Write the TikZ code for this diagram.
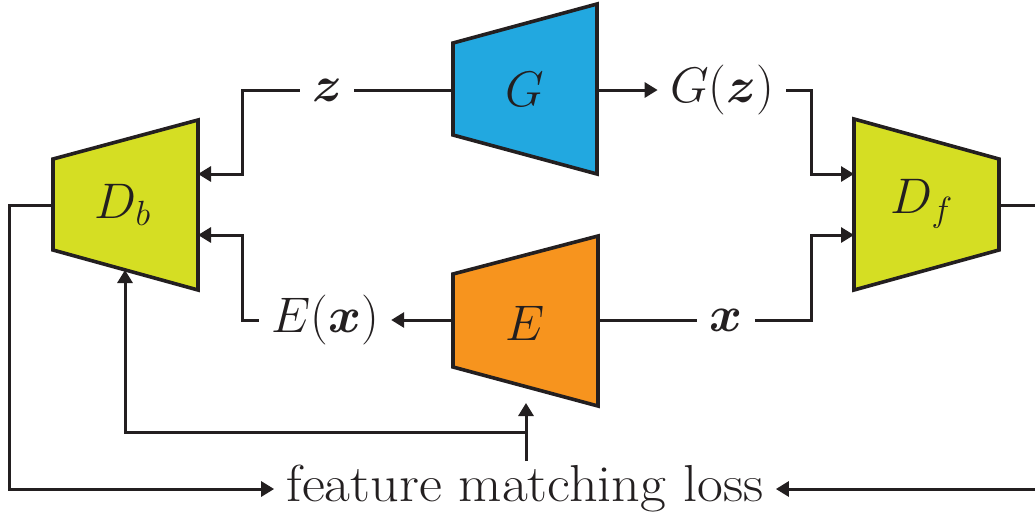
\RequirePackage{fix-cm}
\documentclass[tikz,border=0pt]{standalone}
\usepackage{fontspec}
\usepackage{bm}
\usepackage{graphicx}
\usetikzlibrary{arrows.meta}
\definecolor{ink}{HTML}{231F20}
\definecolor{dyellow}{HTML}{D5DE23}
\definecolor{gblue}{HTML}{22A8E0}
\definecolor{eorange}{HTML}{F7941E}
\begin{document}
\begin{tikzpicture}[x=0.5pt,y=-0.5pt,
  box/.style={draw=ink,line width=1.8pt,line join=miter},
  conn/.style={draw=ink,line width=1.5pt},
  arr/.style={conn,-{Triangle[length=6.5pt,width=7.5pt]}},
  lab/.style={inner sep=6pt,font=\fontsize{25}{30}\selectfont,text=ink}]
\useasboundingbox (0,0) rectangle (1035,516);
% trapezoids
\path[box,fill=dyellow] (53,159) -- (198,120) -- (198,290) -- (53,250) -- cycle;
\path[box,fill=gblue] (453,43) -- (597,4) -- (597,174) -- (453,135) -- cycle;
\path[box,fill=eorange] (453,274) -- (598,236) -- (598,406) -- (453,367) -- cycle;
\path[box,fill=dyellow] (854,119) -- (999,159) -- (999,250) -- (854,290) -- cycle;
% ports
\coordinate (DbIn1) at (198,174);
\coordinate (DbIn2) at (198,235);
\coordinate (DbOut) at (53,205);
\coordinate (DbBot) at (125,270);
\coordinate (Gin) at (453,90);
\coordinate (Gout) at (597,90);
\coordinate (Eout) at (453,320);
\coordinate (Ein) at (598,320);
\coordinate (Ebot) at (526,403);
\coordinate (DfIn1) at (854,174);
\coordinate (DfIn2) at (854,235);
\coordinate (DfOut) at (999,205);
% bends
\coordinate (zc) at (242,90);
\coordinate (exc) at (242,320);
\coordinate (gzc) at (811,90);
\coordinate (xc) at (811,320);
\coordinate (lc) at (9,205);
\coordinate (rc) at (1040,205);
\coordinate (lossTop) at (526,461);
\coordinate (tj) at (526,432);
% labels
\node[lab] (Db) at (123,205) {$D_b$};
\node[lab] (G) at (525,89) {$G$};
\node[lab] (E) at (525,323) {$E$};
\node[lab] (Df) at (922,204) {$D_f$};
\node[lab] (z) at (327,90) {$\bm{z}$};
\node[lab] (Gz) at (722,90) {$G(\bm{z})$};
\node[lab] (Ex) at (325,320) {$E(\bm{x})$};
\node[lab] (x) at (726,320) {$\bm{x}$};
\node[lab,font=\fontsize{26}{30}\selectfont] (loss) at (525,489) {\scalebox{1.08}[1]{feature matching loss}};
% connectors
\draw[conn] (Gin) -- (z.east);
\draw[arr] (z.west) -- (zc) |- (DbIn1);
\draw[arr] (Gout) -- (Gz.west);
\draw[arr] (Gz.east) -- (gzc) |- (DfIn1);
\draw[arr] (Eout) -- (Ex.east);
\draw[arr] (Ex.west) -- (exc) |- (DbIn2);
\draw[conn] (Ein) -- (x.west);
\draw[arr] (x.east) -- (xc) |- (DfIn2);
\draw[arr] (DbOut) -- (lc) |- (loss.west);
\draw[arr] (DfOut) -- (rc) |- (loss.east);
\draw[arr] (lossTop) -- (Ebot);
\draw[arr] (tj) -| (DbBot);
\end{tikzpicture}
\end{document}
